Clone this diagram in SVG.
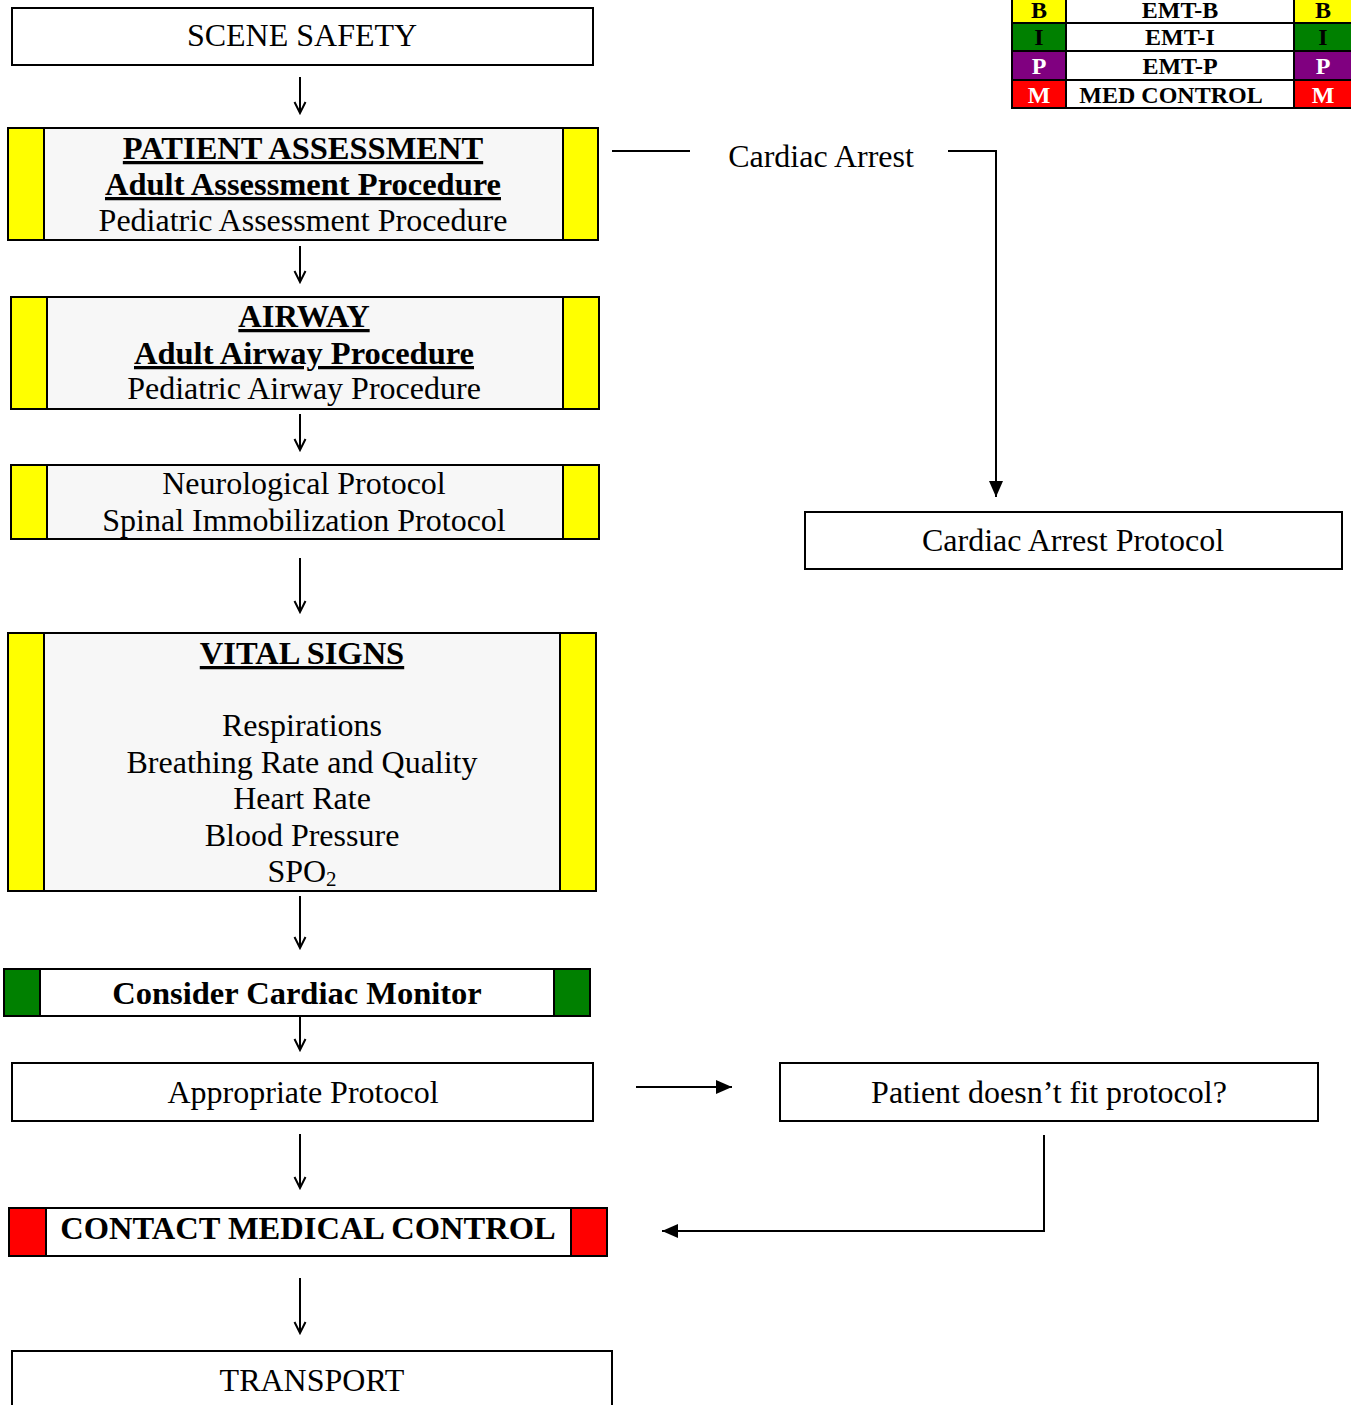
<svg xmlns="http://www.w3.org/2000/svg" width="1351" height="1405" viewBox="0 0 1351 1405">
<defs>
<style>
text{font-family:"Liberation Serif","Times New Roman",serif;fill:#000;text-anchor:middle}
.t{font-size:32px}
.b{font-size:32.5px;font-weight:bold}
.u{text-decoration:underline}
.box{fill:#fff;stroke:#000;stroke-width:2}
.gbox{fill:#f7f7f7;stroke:#000;stroke-width:2}
.y{fill:#ffff00;stroke:#000;stroke-width:2}
.g{fill:#008000;stroke:#000;stroke-width:2}
.r{fill:#ff0000;stroke:#000;stroke-width:2}
.p{fill:#800080;stroke:#000;stroke-width:2}
.ln{fill:none;stroke:#000;stroke-width:2}
.lg{font-size:24px;font-weight:bold}
.w{fill:#fff}
</style>
<marker id="open" viewBox="0 0 14 14" refX="12" refY="7" markerWidth="14" markerHeight="14" markerUnits="userSpaceOnUse" orient="auto">
<path d="M1,1.5 L12,7 L1,12.5" fill="none" stroke="#000" stroke-width="2"/>
</marker>
<marker id="fill" viewBox="0 0 16 14" refX="16" refY="7" markerWidth="16" markerHeight="14" markerUnits="userSpaceOnUse" orient="auto">
<path d="M0,0 L16,7 L0,14 z" fill="#000"/>
</marker>
</defs>

<g id="legend">
<rect class="y" x="1012" y="-6" width="54" height="29"/>
<rect class="box" x="1066" y="-6" width="228" height="29"/>
<rect class="y" x="1294" y="-6" width="60" height="29"/>
<rect class="g" x="1012" y="23" width="54" height="28"/>
<rect class="box" x="1066" y="23" width="228" height="28"/>
<rect class="g" x="1294" y="23" width="60" height="28"/>
<rect class="p" x="1012" y="51" width="54" height="29"/>
<rect class="box" x="1066" y="51" width="228" height="29"/>
<rect class="p" x="1294" y="51" width="60" height="29"/>
<rect class="r" x="1012" y="80" width="54" height="28"/>
<rect class="box" x="1066" y="80" width="228" height="28"/>
<rect class="r" x="1294" y="80" width="60" height="28"/>
<text class="lg" x="1039" y="18">B</text>
<text class="lg" x="1180" y="18">EMT-B</text>
<text class="lg" x="1323" y="18">B</text>
<text class="lg" x="1039" y="45">I</text>
<text class="lg" x="1180" y="45">EMT-I</text>
<text class="lg" x="1323" y="45">I</text>
<text class="lg w" x="1039" y="74">P</text>
<text class="lg" x="1180" y="74">EMT-P</text>
<text class="lg w" x="1323" y="74">P</text>
<text class="lg w" x="1039" y="103">M</text>
<text class="lg" x="1171" y="103">MED CONTROL</text>
<text class="lg w" x="1323" y="103">M</text>
</g>

<g id="scene-safety">
<rect class="box" x="12" y="8" width="581" height="57"/>
<text class="t" x="302" y="46">SCENE SAFETY</text>
</g>

<g id="patient-assessment">
<rect class="gbox" x="8" y="128" width="590" height="112"/>
<rect class="y" x="8" y="128" width="36" height="112"/>
<rect class="y" x="563" y="128" width="35" height="112"/>
<text class="b u" x="303" y="159">PATIENT ASSESSMENT</text>
<text class="b u" x="303" y="195">Adult Assessment Procedure</text>
<text class="t" x="303" y="231">Pediatric Assessment Procedure</text>
</g>

<g id="airway">
<rect class="gbox" x="11" y="297" width="588" height="112"/>
<rect class="y" x="11" y="297" width="36" height="112"/>
<rect class="y" x="563" y="297" width="36" height="112"/>
<text class="b u" x="304" y="327">AIRWAY</text>
<text class="b u" x="304" y="364">Adult Airway Procedure</text>
<text class="t" x="304" y="399">Pediatric Airway Procedure</text>
</g>

<g id="neuro">
<rect class="gbox" x="11" y="465" width="588" height="74"/>
<rect class="y" x="11" y="465" width="36" height="74"/>
<rect class="y" x="563" y="465" width="36" height="74"/>
<text class="t" x="304" y="494">Neurological Protocol</text>
<text class="t" x="304" y="531">Spinal Immobilization Protocol</text>
</g>

<g id="vital-signs">
<rect class="gbox" x="8" y="633" width="588" height="258"/>
<rect class="y" x="8" y="633" width="36" height="258"/>
<rect class="y" x="560" y="633" width="36" height="258"/>
<text class="b u" x="302" y="664">VITAL SIGNS</text>
<text class="t" x="302" y="736">Respirations</text>
<text class="t" x="302" y="773">Breathing Rate and Quality</text>
<text class="t" x="302" y="809">Heart Rate</text>
<text class="t" x="302" y="846">Blood Pressure</text>
<text class="t" x="302" y="882">SPO<tspan font-size="21" dy="4">2</tspan></text>
</g>

<g id="cardiac-monitor">
<rect class="box" x="4" y="969" width="586" height="47"/>
<rect class="g" x="4" y="969" width="36" height="47"/>
<rect class="g" x="554" y="969" width="36" height="47"/>
<text class="b" x="297" y="1004">Consider Cardiac Monitor</text>
</g>

<g id="appropriate-protocol">
<rect class="box" x="12" y="1063" width="581" height="58"/>
<text class="t" x="303" y="1103">Appropriate Protocol</text>
</g>

<g id="contact-medical-control">
<rect class="box" x="9" y="1208" width="598" height="48"/>
<rect class="r" x="9" y="1208" width="37" height="48"/>
<rect class="r" x="571" y="1208" width="36" height="48"/>
<text class="b" x="308" y="1239">CONTACT MEDICAL CONTROL</text>
</g>

<g id="transport">
<rect class="box" x="12" y="1351" width="600" height="70"/>
<text class="t" x="312" y="1391">TRANSPORT</text>
</g>

<g id="cardiac-arrest-protocol">
<rect class="box" x="805" y="512" width="537" height="57"/>
<text class="t" x="1073" y="551">Cardiac Arrest Protocol</text>
</g>

<g id="doesnt-fit">
<rect class="box" x="780" y="1063" width="538" height="58"/>
<text class="t" x="1049" y="1103">Patient doesn’t fit protocol?</text>
</g>

<g id="connectors">
<line class="ln" x1="300" y1="77" x2="300" y2="113" marker-end="url(#open)"/>
<line class="ln" x1="300" y1="246" x2="300" y2="282" marker-end="url(#open)"/>
<line class="ln" x1="300" y1="414" x2="300" y2="450" marker-end="url(#open)"/>
<line class="ln" x1="300" y1="558" x2="300" y2="612" marker-end="url(#open)"/>
<line class="ln" x1="300" y1="896" x2="300" y2="948" marker-end="url(#open)"/>
<line class="ln" x1="300" y1="1016" x2="300" y2="1050" marker-end="url(#open)"/>
<line class="ln" x1="300" y1="1134" x2="300" y2="1188" marker-end="url(#open)"/>
<line class="ln" x1="300" y1="1278" x2="300" y2="1333" marker-end="url(#open)"/>
<line class="ln" x1="612" y1="151" x2="690" y2="151"/>
<text class="t" x="821" y="167">Cardiac Arrest</text>
<path class="ln" d="M948,151 H996 V497" marker-end="url(#fill)"/>
<line class="ln" x1="636" y1="1087" x2="732" y2="1087" marker-end="url(#fill)"/>
<path class="ln" d="M1044,1135 V1231 H662" marker-end="url(#fill)"/>
</g>
</svg>
